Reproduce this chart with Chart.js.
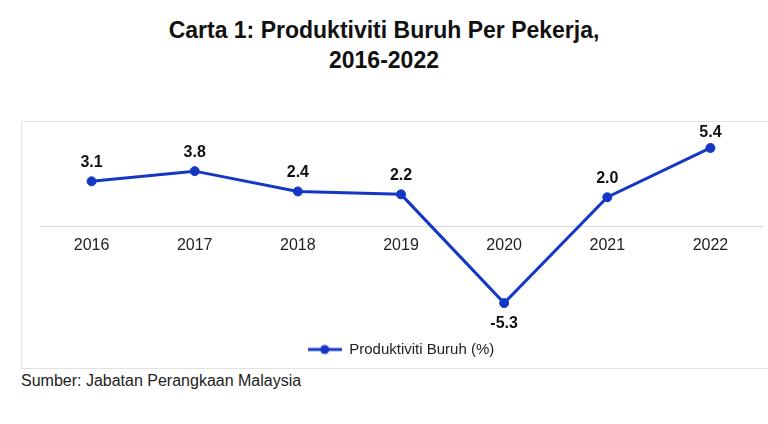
<!DOCTYPE html>
<html lang="ms">
<head>
    <meta charset="UTF-8">
    <script src="https://cdn.jsdelivr.net/npm/chart.js"></script>
    <title>Carta 1: Produktiviti Buruh Per Pekerja</title>
    <style>
        body { margin: 0; background: #fff; font-family: "Liberation Sans", Arial, sans-serif; }
        #wrap { position: relative; width: 768px; height: 424px; }
        #title { position: absolute; left: 0; top: 15px; width: 768px; text-align: center;
                 font-weight: bold; font-size: 23px; line-height: 30px; color: #111; }
        #box { position: absolute; left: 21px; top: 121px; width: 748px; height: 246px;
               border: 1px solid #e2e2e2; border-right: none; }
        #source { position: absolute; left: 21px; top: 372px; font-size: 16px; color: #222; }
        #chart { position: absolute; left: 0; top: 0; }
    </style>
</head>
<body>
<div id="wrap">
    <div id="title">Carta 1: Produktiviti Buruh Per Pekerja,<br>2016-2022</div>
    <div id="box"></div>
    <div id="source">Sumber: Jabatan Perangkaan Malaysia</div>
    <canvas id="chart" width="768" height="424"></canvas>
</div>

<script>
    const years = ['2016', '2017', '2018', '2019', '2020', '2021', '2022'];
    const productivity = [3.1, 3.8, 2.4, 2.2, -5.3, 2.0, 5.4];
    const seriesName = 'Produktiviti Buruh (%)';
    const lineColor = '#1538c4';

    // legend marker: short line with a dot in the middle
    const marker = document.createElement('canvas');
    marker.width = 34; marker.height = 12;
    const mc = marker.getContext('2d');
    mc.strokeStyle = lineColor; mc.lineWidth = 3;
    mc.beginPath(); mc.moveTo(0, 6); mc.lineTo(34, 6); mc.stroke();
    mc.fillStyle = lineColor;
    mc.beginPath(); mc.arc(17, 6, 4.5, 0, Math.PI * 2); mc.fill();

    const valueLabels = {
        id: 'valueLabels',
        afterDatasetsDraw(chart) {
            const ctx = chart.ctx;
            const meta = chart.getDatasetMeta(0);
            ctx.save();
            ctx.font = 'bold 16px "Liberation Sans", Arial, sans-serif';
            ctx.fillStyle = '#111';
            ctx.textAlign = 'center';
            meta.data.forEach((pt, i) => {
                const v = productivity[i];
                const txt = v.toFixed(1);
                if (v < 0) {
                    ctx.textBaseline = 'top';
                    ctx.fillText(txt, pt.x, pt.y + 12);
                } else {
                    // keep labels inside the plot box, like the original
                    ctx.textBaseline = 'bottom';
                    ctx.fillText(txt, pt.x, Math.max(pt.y - 11, chart.chartArea.top + 9));
                }
            });
            ctx.restore();
        }
    };

    new Chart(document.getElementById('chart'), {
        type: 'line',
        data: {
            labels: years,
            datasets: [{
                label: seriesName,
                data: productivity,
                borderColor: lineColor,
                backgroundColor: lineColor,
                borderWidth: 3,
                pointRadius: 4.5,
                pointBorderWidth: 1,
                pointHoverRadius: 4.5,
                tension: 0
            }]
        },
        options: {
            responsive: false,
            animation: false,
            layout: { padding: { top: 132, left: 40, right: 6, bottom: 57 } },
            scales: {
                x: {
                    position: { y: 0 },
                    offset: true,
                    grid: { display: false, drawTicks: false },
                    border: { display: true, color: '#d9d9d9', width: 1 },
                    ticks: { color: '#222', font: { size: 16, family: '"Liberation Sans", Arial, sans-serif' }, padding: 10 }
                },
                y: {
                    display: false,
                    min: -7.5,
                    max: 6.5
                }
            },
            plugins: {
                legend: {
                    position: 'bottom',
                    labels: {
                        usePointStyle: true,
                        pointStyle: marker,
                        pointStyleWidth: 34,
                        boxHeight: 12,
                        padding: 7,
                        color: '#222',
                        font: { size: 15, family: '"Liberation Sans", Arial, sans-serif' }
                    }
                },
                tooltip: { enabled: false }
            }
        },
        plugins: [valueLabels]
    });
</script>
</body>
</html>
